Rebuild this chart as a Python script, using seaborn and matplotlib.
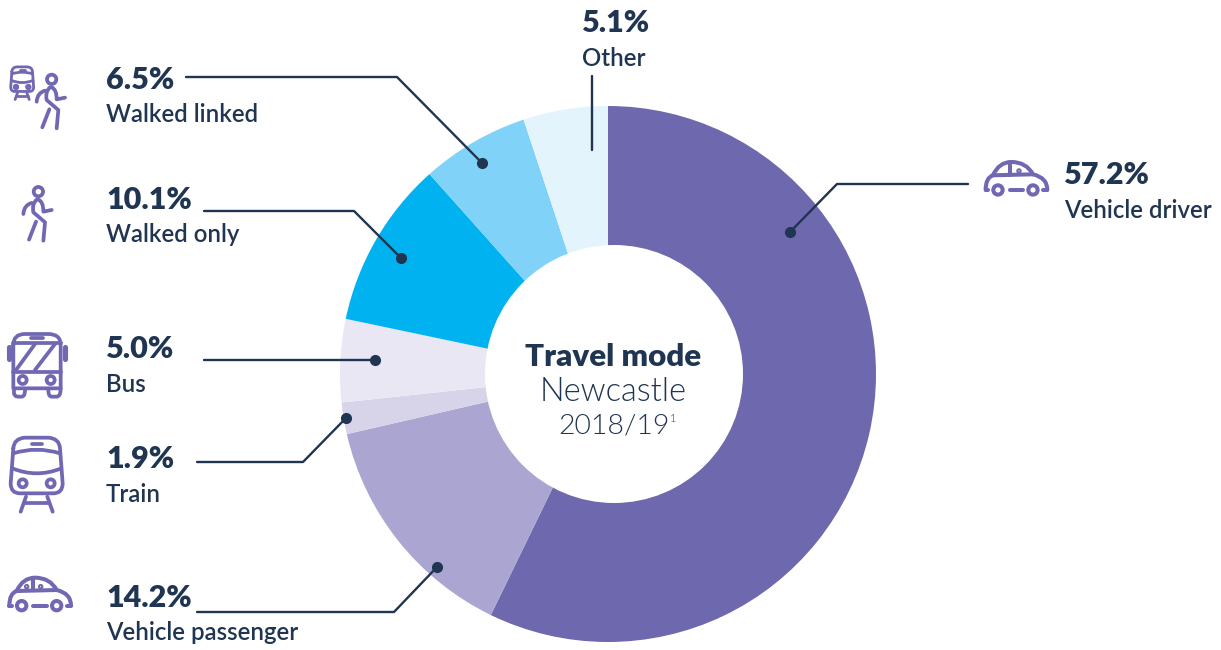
import matplotlib
matplotlib.use('Agg')
import matplotlib.pyplot as plt
import seaborn as sns
from matplotlib.path import Path
from matplotlib.patches import PathPatch, Circle

# data
modes = ['Vehicle driver', 'Vehicle passenger', 'Train', 'Bus', 'Walked only', 'Walked linked', 'Other']
shares = [57.2, 14.2, 1.9, 5.0, 10.1, 6.5, 5.1]
wedge_colors = ['#6e68ae', '#aba5d2', '#d7d4ea', '#e9e7f4', '#00b3f0', '#80d2f8', '#e3f4fd']

NAVY = '#1f3551'
PURPLE = '#7068b2'

sns.set_theme(style='white')
plt.rcParams['font.family'] = ['Lato', 'DejaVu Sans']

fig = plt.figure(figsize=(12.21, 6.5), dpi=100)
ax = fig.add_axes([0, 0, 1, 1])
palette = sns.color_palette(wedge_colors)

# y axis is flipped so everything below is in picture pixels
ax.pie(shares, colors=palette, center=(608, 374), radius=268, startangle=-90,
       counterclock=True, wedgeprops={'linewidth': 0})
# the hole sits a little right of the pie centre in the original
ax.add_patch(Circle((614, 374), 129, fc='white', ec='none', zorder=3))
ax.set_xlim(0, 1221)
ax.set_ylim(650, 0)
ax.set_aspect('equal')
ax.axis('off')

# label position, leader line
labels = {
    'Vehicle driver': ((1064, 175), (1064, 211), [(790, 232), (837, 184), (968, 184)]),
    'Vehicle passenger': ((106, 598), (106, 633), [(437, 567), (394, 612), (197, 612)]),
    'Train': ((106, 459), (106, 494), [(346, 418), (303, 462), (197, 462)]),
    'Bus': ((106, 349), (106, 384), [(375, 360), (204, 360)]),
    'Walked only': ((106, 200), (106, 235), [(401, 258), (354, 211), (204, 211)]),
    'Walked linked': ((106, 80), (106, 115), [(482, 163), (397, 77), (186, 77)]),
    'Other': ((582, 23), (582, 59), [(592, 150), (592, 76)]),
}
for mode, share in zip(modes, shares):
    pct_pos, name_pos, line = labels[mode]
    ax.text(pct_pos[0], pct_pos[1], f'{share:.1f}%', fontsize=22, fontweight='heavy',
            color=NAVY, va='center', ha='left', zorder=5)
    ax.text(name_pos[0], name_pos[1], mode, fontsize=17.3, fontweight='semibold',
            color=NAVY, va='center', ha='left', zorder=5)
    ax.plot([p[0] for p in line], [p[1] for p in line], color=NAVY, lw=1.7, zorder=4)
    if mode != 'Other':
        ax.plot(line[0][0], line[0][1], 'o', color=NAVY, ms=7, zorder=4)

# centre text
ax.text(613, 357, 'Travel mode', fontsize=22.5, fontweight='heavy', color=NAVY, ha='center', va='center', zorder=5)
ax.text(613, 392, 'Newcastle', fontsize=23.5, fontweight=300, color=NAVY, ha='center', va='center', zorder=5)
ax.text(614, 426, '2018/19', fontsize=20.5, fontweight=300, color=NAVY, ha='center', va='center', zorder=5)
ax.text(670, 418, '1', fontsize=8, fontweight=300, color=NAVY, ha='left', va='center', zorder=5)


def stroke(d, ox=0, oy=0, s=1 / 3, lw=2.2):
    # tiny svg style path: M x y, L x y, Q cx cy x y
    verts, codes = [], []
    toks = d.split()
    i = 0
    while i < len(toks):
        c = toks[i]
        n = 4 if c == 'Q' else 2
        nums = [float(t) for t in toks[i + 1:i + 1 + n]]
        pts = [(ox + nums[j] * s, oy + nums[j + 1] * s) for j in range(0, n, 2)]
        verts += pts
        codes += {'M': [Path.MOVETO], 'L': [Path.LINETO], 'Q': [Path.CURVE3, Path.CURVE3]}[c]
        i += 1 + n
    ax.add_patch(PathPatch(Path(verts, codes), fc='none', ec=PURPLE, lw=lw, capstyle='round', joinstyle='round'))


def ring(x, y, r, ox=0, oy=0, s=1 / 3, lw=2.2):
    ax.add_patch(Circle((ox + x * s, oy + y * s), r * s, fc='none', ec=PURPLE, lw=lw))


def person(ox, oy, lw=2.7):
    ring(155, 88, 14, ox, oy, lw=lw)
    stroke('M 150 112 Q 135 125 140 150 L 175 180 L 170 235', ox, oy, lw=lw)
    stroke('M 155 112 Q 170 118 170 148 L 195 143', ox, oy, lw=lw)
    stroke('M 110 155 Q 112 128 135 122', ox, oy, lw=lw)
    stroke('M 148 178 L 127 232', ox, oy, lw=lw)


def train(ox, oy, s=1 / 3, lw=2.7):
    stroke('M 40 385 Q 42 355 75 353 L 145 353 Q 178 355 180 385 L 188 490 Q 188 520 160 520 '
           'L 60 520 Q 32 520 32 490 L 40 385', ox, oy, s, lw)
    stroke('M 40 400 Q 110 378 180 400', ox, oy, s, lw)
    stroke('M 37 445 Q 110 475 184 445', ox, oy, s, lw)
    stroke('M 95 372 L 127 372', ox, oy, s, lw)
    ring(68, 490, 12, ox, oy, s, lw)
    ring(152, 490, 12, ox, oy, s, lw)
    stroke('M 78 530 L 62 575', ox, oy, s, lw)
    stroke('M 142 530 L 158 575', ox, oy, s, lw)
    stroke('M 72 548 L 148 548', ox, oy, s, lw)


def car(ox, oy, rings, lw=2.9):
    stroke('M 28 122 Q 28 85 50 78 Q 68 38 105 38 Q 150 38 170 75 Q 213 85 213 122', ox, oy, lw=lw)
    stroke('M 50 78 L 170 75', ox, oy, lw=lw)
    stroke('M 100 40 L 100 76', ox, oy, lw=lw)
    stroke('M 100 122 L 140 122', ox, oy, lw=lw)
    stroke('M 28 122 L 36 122', ox, oy, lw=lw)
    stroke('M 200 122 L 213 122', ox, oy, lw=lw)
    ring(65, 122, 14, ox, oy, lw=lw)
    ring(170, 122, 14, ox, oy, lw=lw)
    for x in rings:
        ring(x, 65, 5, ox, oy, lw=1.5)


def bus(ox, oy, lw=2.7):
    stroke('M 40 75 Q 40 42 75 42 L 145 42 Q 182 42 182 75 L 182 205 L 40 205 L 40 75', ox, oy, lw=lw)
    stroke('M 40 155 L 182 155', ox, oy, lw=lw)
    stroke('M 40 68 L 182 68', ox, oy, lw=lw)
    stroke('M 92 55 L 130 55', ox, oy, lw=lw)
    stroke('M 48 150 L 105 72', ox, oy, lw=lw)
    stroke('M 105 150 L 165 72', ox, oy, lw=lw)
    ring(68, 180, 12, ox, oy, lw=lw)
    ring(152, 180, 12, ox, oy, lw=lw)
    stroke('M 26 82 L 26 118', ox, oy, lw=lw + 1)
    stroke('M 196 82 L 196 118', ox, oy, lw=lw + 1)
    stroke('M 42 205 L 42 220 Q 44 230 55 230 L 65 230 Q 75 230 75 210', ox, oy, lw=lw)
    stroke('M 145 210 Q 145 230 155 230 L 170 230 Q 182 230 182 205', ox, oy, lw=lw)


# icons
car(976.3, 149.3, [128])
car(0, 565, [80, 122])
bus(0, 320)
train(0, 320)
train(6, 15, s=0.147, lw=2.0)
person(0, 50)
person(-13.3, 162.3)

plt.savefig('out.png', dpi=100)
plt.close()
